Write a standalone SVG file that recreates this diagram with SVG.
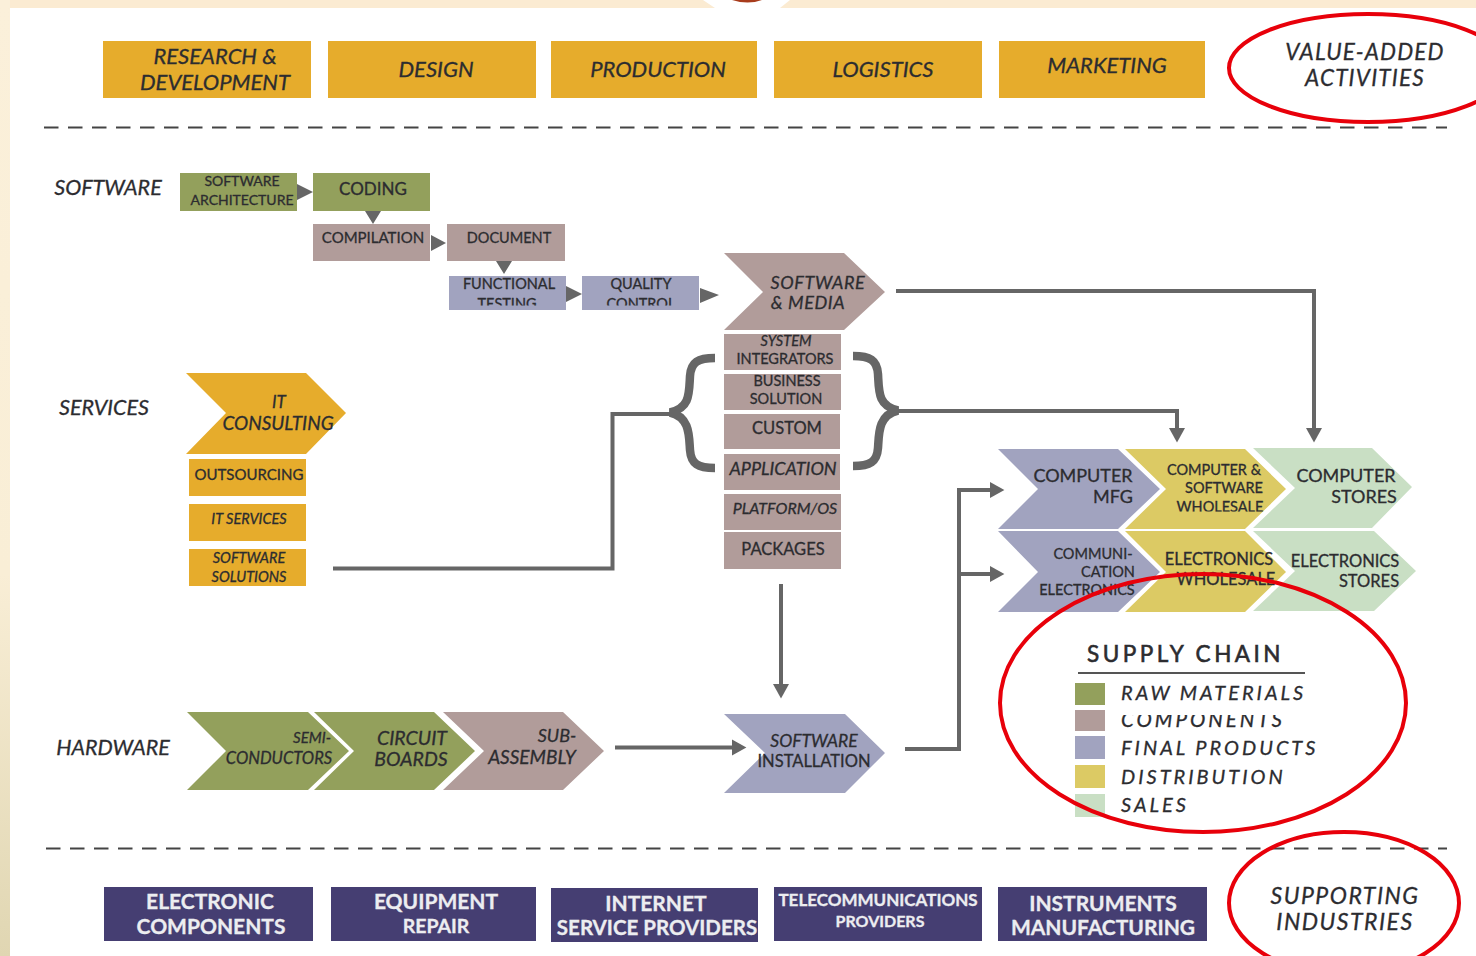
<svg xmlns="http://www.w3.org/2000/svg" width="1476" height="956" viewBox="0 0 1476 956">
<style>
text{font-family:"Lato","Liberation Sans",sans-serif;fill:#2c2c30;stroke:#2c2c30;stroke-width:.3;text-anchor:middle}
.i{font-style:italic}
.m{font-size:22px}
.s{font-size:14.500px}
.w{fill:#ecedf0;stroke:#ecedf0;font-weight:700;font-size:21px}
.o{fill:#e6ac2c}
.g{fill:#93a05c}
.r{fill:#b19c9a}
.b{fill:#a1a3bf}
.y{fill:#dcca64}
.t{fill:#c9dfc4}
.n{fill:#453e72}
.c{fill:none;stroke:#666;stroke-width:4}
.h{fill:#666}
.e{fill:none;stroke:#e8000a;stroke-width:4}
.d{fill:none;stroke:#444;stroke-width:2;stroke-dasharray:14.500 9.500}
.k{fill:none;stroke:#666;stroke-width:8.500}
.lg{font-size:20px;letter-spacing:3px;text-anchor:start}
.big{font-size:22.500px;letter-spacing:1.200px}
.sup{font-size:23px;letter-spacing:1.500px}
.med{font-size:18px;letter-spacing:.6px}
</style>
<defs>
<linearGradient id="side" x1="0" y1="0" x2="0" y2="1"><stop offset="0" stop-color="#fbf0da"/><stop offset="0.6" stop-color="#f9eed6"/><stop offset="1" stop-color="#e0d6b2"/></linearGradient>
<marker id="a" markerWidth="5" markerHeight="5" refX="0.5" refY="2.5" orient="auto" markerUnits="strokeWidth"><path d="M0 .5L3.600 2.500L0 4.500z" fill="#666"/></marker>
<clipPath id="c1"><rect x="449" y="276" width="250" height="29.500"/></clipPath>
<clipPath id="c2"><rect x="1100" y="715" width="240" height="16"/></clipPath>
<clipPath id="c3"><rect x="1125" y="449" width="161" height="62.500"/></clipPath>
</defs>
<rect width="1476" height="956" fill="#fff"/>
<rect width="1476" height="8" fill="#fbebd2"/>
<rect width="10" height="956" fill="url(#side)"/>
<path d="M703 0L715 8H780L790 0z" fill="#fff"/>
<path d="M732 0Q748 5 762 0z" fill="#a83c1c"/>

<g id="top-activities">
<g id="rd"><rect class="o" x="103" y="41" width="208" height="57"/><text class="i m" x="215" y="64">RESEARCH &amp;</text><text class="i m" x="215" y="90">DEVELOPMENT</text></g>
<g id="design"><rect class="o" x="328" y="41" width="208" height="57"/><text class="i m" x="436" y="77">DESIGN</text></g>
<g id="production"><rect class="o" x="551" y="41" width="206" height="57"/><text class="i m" x="658" y="77">PRODUCTION</text></g>
<g id="logistics"><rect class="o" x="774" y="41" width="208" height="57"/><text class="i m" x="883" y="77">LOGISTICS</text></g>
<g id="marketing"><rect class="o" x="999" y="41" width="206" height="57"/><text class="i m" x="1107" y="73">MARKETING</text></g>
<g id="value-added"><text class="i big" x="1365" y="60">VALUE-ADDED</text><text class="i big" x="1365" y="86">ACTIVITIES</text></g>
</g>
<line class="d" x1="44" y1="127.500" x2="1447" y2="127.500"/>
<line class="d" x1="46" y1="848.500" x2="1447" y2="848.500"/>

<g id="labels">
<text class="i" font-size="21.500" x="108" y="195">SOFTWARE</text>
<text class="i" font-size="21.500" x="104" y="415">SERVICES</text>
<text class="i" font-size="21.500" x="113" y="755">HARDWARE</text>
</g>

<g id="connectors">
<path class="c" d="M333 568.500H612.500V414H672"/>
<path class="c" d="M896 291H1314V430" marker-end="url(#a)"/>
<path class="c" d="M898 411H1177V430" marker-end="url(#a)"/>
<path class="c" d="M781 584V686" marker-end="url(#a)"/>
<path class="c" d="M615 747.500H734" marker-end="url(#a)"/>
<path class="c" d="M905 749H959V490H992" marker-end="url(#a)"/>
<path class="c" d="M959 574H992" marker-end="url(#a)"/>
<path class="h" d="M297 184L313 192L297 200zM365 211H381L373 224zM431 235L446 243L431 251zM496 261H512L504 274zM566 286L582 294L566 302zM700 288L719 295L700 303z"/>
<path class="k" d="M715 358C698 358 691 362 690 376C689 394 690 408 670 412.500C690 417 689 436 690 450C691 464 698 468 715 468"/>
<path class="k" d="M853 356C870 356 877 360 878 374C879 392 878 406 898 410.500C878 415 879 434 878 448C877 462 870 466 853 466"/>
</g>

<g id="sw-arch"><rect class="g" x="180" y="173" width="117" height="38"/><text class="s" style="font-size:14px" x="242" y="186">SOFTWARE</text><text class="s" style="font-size:14px" x="242" y="205">ARCHITECTURE</text></g>
<g id="coding"><rect class="g" x="313" y="173" width="117" height="38"/><text style="font-size:17px" x="373" y="195">CODING</text></g>
<g id="compilation"><rect class="r" x="313" y="224" width="117" height="37"/><text style="font-size:15px" x="373" y="243">COMPILATION</text></g>
<g id="document"><rect class="r" x="447" y="224" width="118" height="37"/><text class="s" x="509" y="243">DOCUMENT</text></g>
<g id="functional-testing"><rect class="b" x="449" y="276" width="117" height="34"/><text class="s" x="509" y="289">FUNCTIONAL</text><text class="s" clip-path="url(#c1)" x="507" y="309">TESTING</text></g>
<g id="quality-control"><rect class="b" x="582" y="276" width="117" height="34"/><text class="s" x="641" y="289">QUALITY</text><text class="s" clip-path="url(#c1)" x="641" y="309">CONTROL</text></g>
<g id="software-media"><path class="r" d="M724 253H844L885 292L844 330H724L763 292z"/><text class="i med" x="818" y="289">SOFTWARE</text><text class="i med" x="808" y="309">&amp; MEDIA</text></g>
<g id="system-integrators"><rect class="r" x="724" y="334" width="117" height="36"/><text class="i s" x="786" y="346">SYSTEM</text><text class="s" x="785" y="364">INTEGRATORS</text></g>
<g id="business-solution"><rect class="r" x="724" y="374" width="117" height="36"/><text class="s" x="787" y="386">BUSINESS</text><text class="s" x="786" y="404">SOLUTION</text></g>
<g id="custom"><rect class="r" x="724" y="414" width="116" height="35"/><text style="font-size:16.500px" x="787" y="434">CUSTOM</text></g>
<g id="application"><rect class="r" x="724" y="454" width="116" height="36"/><text class="i" font-size="18" x="783" y="475">APPLICATION</text></g>
<g id="platform-os"><rect class="r" x="724" y="494" width="117" height="36"/><text class="i" font-size="16" x="785" y="514">PLATFORM/OS</text></g>
<g id="packages"><rect class="r" x="724" y="532" width="117" height="37"/><text style="font-size:16.500px" x="783" y="555">PACKAGES</text></g>

<g id="it-consulting"><path class="o" d="M186 373H306L346 413L306 454H186L226 413z"/><text class="i" font-size="17" x="279" y="408">IT</text><text class="i" font-size="19" x="278" y="430">CONSULTING</text></g>
<g id="outsourcing"><rect class="o" x="189" y="459" width="117" height="37"/><text style="font-size:15px" x="249" y="480">OUTSOURCING</text></g>
<g id="it-services"><rect class="o" x="189" y="504" width="117" height="37"/><text class="i s" x="249" y="524">IT SERVICES</text></g>
<g id="software-solutions"><rect class="o" x="189" y="549" width="117" height="37"/><text class="i s" x="249" y="563">SOFTWARE</text><text class="i s" x="249" y="582">SOLUTIONS</text></g>

<g id="semiconductors"><path class="g" d="M187 712H308L349 751L308 790H187L226 751z"/><text class="i" font-size="15" x="312" y="743">SEMI-</text><text class="i" font-size="16.500" x="279" y="764">CONDUCTORS</text></g>
<g id="circuit-boards"><path class="g" d="M314 712H434L475 751L434 790H314L354 751z"/><text class="i" font-size="19.500" x="412" y="745">CIRCUIT</text><text class="i" font-size="19.500" x="411" y="766">BOARDS</text></g>
<g id="sub-assembly"><path class="r" d="M443 712H563L604 751L563 790H443L484 751z"/><text class="i" font-size="18" x="557" y="742">SUB-</text><text class="i" font-size="19" x="532" y="764">ASSEMBLY</text></g>
<g id="software-installation"><path class="b" d="M724 714H845L885 753L845 793H724L765 753z"/><text class="i" font-size="17.500" x="814" y="747">SOFTWARE</text><text style="font-size:16.500px" x="814" y="767">INSTALLATION</text></g>

<g id="computer-mfg"><path class="b" d="M998 449H1118L1160 489L1118 529H998L1038 489z"/><text style="font-size:18px" x="1083" y="482">COMPUTER</text><text style="font-size:18px" x="1113" y="503">MFG</text></g>
<g id="cs-wholesale"><path class="y" d="M1125 449H1245L1286 489L1245 529H1125L1166 489z"/><text class="s" x="1214" y="475">COMPUTER &amp;</text><text class="s" x="1224" y="493">SOFTWARE</text><text class="s" clip-path="url(#c3)" x="1220" y="512">WHOLESALE</text></g>
<g id="computer-stores"><path class="t" d="M1253 448H1372L1412 487L1372 528H1253L1295 488z"/><text style="font-size:18px" x="1346" y="482">COMPUTER</text><text style="font-size:18px" x="1364" y="503">STORES</text></g>
<g id="comm-electronics"><path class="b" d="M998 531H1118L1160 572L1118 612H998L1038 572z"/><text class="s" x="1093" y="559">COMMUNI-</text><text class="s" x="1108" y="577">CATION</text><text class="s" x="1087" y="595">ELECTRONICS</text></g>
<g id="electronics-wholesale"><path class="y" d="M1125 531H1245L1286 572L1245 612H1125L1166 572z"/><text style="font-size:16.500px" x="1219" y="565">ELECTRONICS</text><text style="font-size:16.500px" x="1226" y="585">WHOLESALE</text></g>
<g id="electronics-stores"><path class="t" d="M1253 531H1374L1416 571L1374 611H1253L1295 571z"/><text style="font-size:16.500px" x="1345" y="567">ELECTRONICS</text><text style="font-size:16.500px" x="1369" y="587">STORES</text></g>

<g id="legend">
<text class="lg" style="font-size:22.500px;letter-spacing:3.500px;stroke-width:.6" x="1087" y="662">SUPPLY CHAIN</text>
<line x1="1078" y1="673" x2="1305" y2="673" stroke="#555" stroke-width="2"/>
<rect class="g" x="1075" y="683" width="30" height="22"/>
<rect class="r" x="1075" y="710" width="30" height="21"/>
<rect class="b" x="1075" y="736" width="30" height="23"/>
<rect class="y" x="1075" y="765" width="30" height="23"/>
<rect class="t" x="1075" y="794" width="30" height="23"/>
<text class="lg i" x="1121" y="700">RAW MATERIALS</text>
<text class="lg i" clip-path="url(#c2)" x="1121" y="727" style="font-size:20.500px">COMPONENTS</text>
<text class="lg i" x="1121" y="755">FINAL PRODUCTS</text>
<text class="lg i" x="1121" y="784">DISTRIBUTION</text>
<text class="lg i" x="1121" y="812">SALES</text>
</g>

<g id="bottom-industries">
<g id="electronic-components"><rect class="n" x="104" y="887" width="209" height="54"/><text class="w" x="210" y="909">ELECTRONIC</text><text class="w" x="211" y="934">COMPONENTS</text></g>
<g id="equipment-repair"><rect class="n" x="331" y="887" width="205" height="54"/><text class="w" x="436" y="909">EQUIPMENT</text><text class="w" style="font-size:19.500px" x="436" y="933">REPAIR</text></g>
<g id="isp"><rect class="n" x="551" y="888" width="207" height="54"/><text class="w" x="656" y="911">INTERNET</text><text class="w" style="font-size:20.500px" x="657" y="935">SERVICE PROVIDERS</text></g>
<g id="telecom"><rect class="n" x="774" y="887" width="208" height="54"/><text class="w" style="font-size:17px" x="878" y="906">TELECOMMUNICATIONS</text><text class="w" style="font-size:16px" x="880" y="927">PROVIDERS</text></g>
<g id="instruments"><rect class="n" x="998" y="887" width="209" height="54"/><text class="w" x="1103" y="911">INSTRUMENTS</text><text class="w" x="1103" y="935">MANUFACTURING</text></g>
<g id="supporting"><text class="i sup" x="1345" y="904">SUPPORTING</text><text class="i sup" x="1345" y="930">INDUSTRIES</text></g>
</g>

<g id="annotations">
<ellipse class="e" cx="1368" cy="68" rx="139" ry="54"/>
<ellipse class="e" cx="1203" cy="703" rx="203" ry="129"/>
<ellipse class="e" cx="1344" cy="903" rx="115" ry="71"/>
</g>
</svg>
